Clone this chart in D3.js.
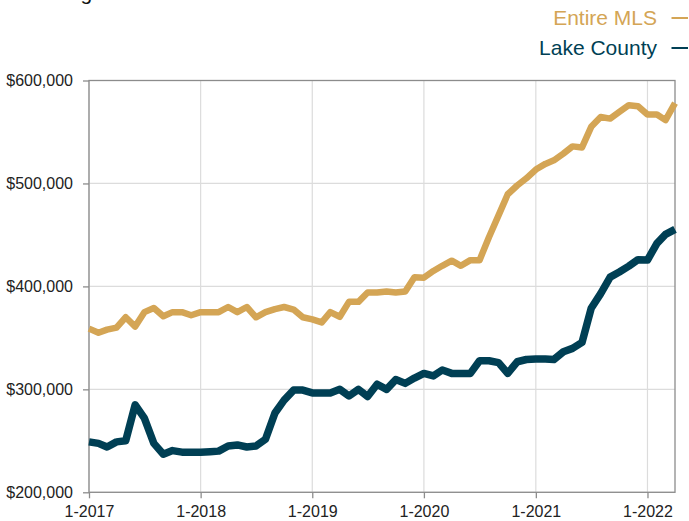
<!DOCTYPE html>
<html>
<head>
<meta charset="utf-8">
<script src="https://cdn.jsdelivr.net/npm/d3@7"></script>
<style>
  html, body { margin: 0; padding: 0; background: #fff; }
  svg { display: block; font-family: "Liberation Sans", Arial, Helvetica, sans-serif; }
</style>
</head>
<body>
<svg id="chart" width="689" height="521"></svg>
<script>
// ---- Data (monthly, Jan 2017 – Apr 2022) ----
const startMonth = "2017-01";
const entireMLS = [
  359000, 355000, 358000, 360000, 370000, 361000, 375000, 379000, 371000, 375000, 375000, 372000,
  375000, 375000, 375000, 380000, 375000, 380000, 370000, 375000, 378000, 380000, 377500, 370000,
  368000, 365000, 375000, 370500, 385000, 385000, 394000, 394000, 395000, 394000, 395000, 409000,
  408500, 415000, 420000, 425000, 420000, 425500, 425500, 448000, 469000, 489500, 498000, 505000,
  513500, 519000, 522500, 529000, 536000, 535000, 555000, 564500, 563000, 569500, 576000, 575000,
  567000, 567000, 561500, 578000
];
const lakeCounty = [
  249000, 247500, 244000, 249000, 250000, 285000, 272000, 247500, 237000, 240500, 239000, 239000,
  239000, 239500, 240000, 245000, 246000, 244000, 245000, 251500, 277000, 289500, 299300, 299300,
  296500, 296500, 296500, 300000, 293500, 300000, 293000, 305000, 300000, 309500, 305800, 311000,
  315500, 313000, 318800, 315500, 315500, 315500, 327800, 327800, 326000, 315500, 326800, 329000,
  329500, 329500, 329000, 336500, 339800, 345600, 378700, 393000, 409000, 414000, 419700, 426000,
  425600, 441800, 450500, 455400
];
const seriesNames = ["Entire MLS", "Lake County"];
const seriesColors = ["#d4a555", "#003f54"];
const yTicks = [200000, 300000, 400000, 500000, 600000];
const xTickYears = [2017, 2018, 2019, 2020, 2021, 2022];
const titleText = "Rolling 12-Month Calculation";

// ---- Build ----
const parse = d3.timeParse("%Y-%m");
const start = parse(startMonth);
const dates = entireMLS.map((_, i) => d3.timeMonth.offset(start, i));
const series = [entireMLS, lakeCounty].map((vals, si) => ({
  name: seriesNames[si],
  color: seriesColors[si],
  values: vals.map((v, i) => ({ date: dates[i], value: v }))
}));

const svg = d3.select("#chart");
const margin = { left: 89, right: 675, top: 80.5, bottom: 492.3 };

const x = d3.scaleTime()
  .domain([dates[0], dates[dates.length - 1]])
  .range([margin.left, margin.right]);
const y = d3.scaleLinear()
  .domain([200000, 600000])
  .range([margin.bottom, margin.top]);

// Title (cut off at the top in the reference)
svg.append("text")
  .attr("x", 28).attr("y", 0.3)
  .attr("font-size", 21).attr("fill", "#111")
  .text(titleText);

// Grid lines
const grid = svg.append("g");
grid.selectAll("line.h").data(yTicks).join("line")
  .attr("x1", margin.left).attr("x2", margin.right)
  .attr("y1", d => y(d)).attr("y2", d => y(d))
  .attr("stroke", "#dcdcdc").attr("stroke-width", 1.2);
const yearDates = xTickYears.map(yr => new Date(yr, 0, 1));
grid.selectAll("line.v").data(yearDates).join("line")
  .attr("x1", d => x(d)).attr("x2", d => x(d))
  .attr("y1", margin.top).attr("y2", margin.bottom)
  .attr("stroke", "#dcdcdc").attr("stroke-width", 1.2);

// Frame
svg.append("rect")
  .attr("x", margin.left).attr("y", margin.top)
  .attr("width", margin.right - margin.left).attr("height", margin.bottom - margin.top)
  .attr("fill", "none").attr("stroke", "#8c8c8c").attr("stroke-width", 1.3);

// Axes
const yAxis = d3.axisLeft(y).tickValues(yTicks)
  .tickFormat(d => "$" + d3.format(",")(d))
  .tickSize(6).tickPadding(10);
const gy = svg.append("g").attr("transform", `translate(${margin.left},0)`).call(yAxis);
const xAxis = d3.axisBottom(x).tickValues(yearDates)
  .tickFormat(d => "1-" + d.getFullYear())
  .tickSize(6).tickPadding(7);
const gx = svg.append("g").attr("transform", `translate(0,${margin.bottom})`).call(xAxis);
[gy, gx].forEach(g => {
  g.select(".domain").remove();
  g.selectAll(".tick line").attr("stroke", "#8c8c8c").attr("stroke-width", 1.3);
  g.selectAll(".tick text").attr("font-size", 16).attr("fill", "#222")
    .attr("font-family", '"Liberation Sans", Arial, sans-serif');
});

// Lines
const line = d3.line().x(d => x(d.date)).y(d => y(d.value));
svg.append("g").selectAll("path").data(series).join("path")
  .attr("d", d => line(d.values))
  .attr("fill", "none")
  .attr("stroke", d => d.color)
  .attr("stroke-width", (d, i) => i === 0 ? 6.5 : 7.5)
  .attr("stroke-linejoin", "round")
  .attr("stroke-linecap", "butt");

// Legend (top right)
const legend = svg.append("g");
const legY = [25, 55];
series.forEach((s, i) => {
  legend.append("text")
    .attr("x", 657).attr("y", legY[i])
    .attr("text-anchor", "end")
    .attr("font-size", 21)
    .attr("fill", s.color)
    .text(s.name);
  legend.append("line")
    .attr("x1", 671.5).attr("x2", 688)
    .attr("y1", legY[i] - 7).attr("y2", legY[i] - 7)
    .attr("stroke", s.color).attr("stroke-width", 2);
});
</script>
</body>
</html>
